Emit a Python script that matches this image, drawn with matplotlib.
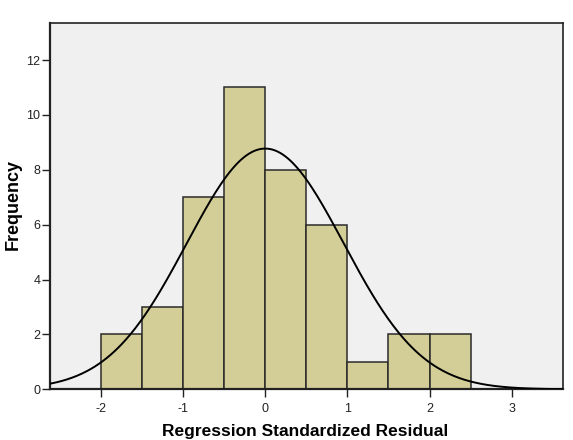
import numpy as np
import matplotlib
matplotlib.use("Agg")
import matplotlib.pyplot as plt

# Data
bin_edges_left = [-2.0, -1.5, -1.0, -0.5, 0.0, 0.5, 1.0, 1.5, 2.0]
bin_width = 0.5
counts = [2, 3, 7, 11, 8, 6, 1, 2, 2]
resid_mean = 0.0
resid_std = 0.955
x_ticks = [-2, -1, 0, 1, 2, 3]
y_ticks = [0, 2, 4, 6, 8, 10, 12]

plt.rcParams['font.family'] = ['Liberation Sans', 'DejaVu Sans']

fig = plt.figure(figsize=(5.73, 4.40), dpi=100)
ax = fig.add_axes([50/573, 1 - 389.3/440, (563-50)/573, (389.3-22.7)/440])
ax.set_facecolor('#F0F0F0')

ax.bar(bin_edges_left, counts, width=bin_width, align='edge',
       color='#D3CE97', edgecolor='#2a2a2a', linewidth=1.1, zorder=2)

n = sum(counts)
xs = np.linspace(-2.62, 3.625, 400)
ys = n * bin_width / (resid_std * np.sqrt(2 * np.pi)) * np.exp(-0.5 * ((xs - resid_mean) / resid_std) ** 2)
ax.plot(xs, ys, color='black', linewidth=1.4, zorder=3)

ax.set_xlim(-2.62, 3.625)
ax.set_ylim(0, 13.36)
ax.set_xticks(x_ticks)
ax.set_xticklabels([str(t) for t in x_ticks])
ax.set_yticks(y_ticks)
ax.set_yticklabels([str(t) for t in y_ticks])
ax.tick_params(axis='both', direction='out', length=6, width=1.0, labelsize=9,
               color='#222222', labelcolor='#222222')
ax.tick_params(axis='y', pad=1)
ax.tick_params(axis='x', pad=4)
for side in ['left', 'right', 'top', 'bottom']:
    ax.spines[side].set_color('#222222')
    ax.spines[side].set_linewidth(1.2)
ax.spines['left'].set_linewidth(1.6)
ax.spines['bottom'].set_linewidth(1.6)

fig.text(13/573, 1 - 205/440, 'Frequency', fontsize=13, fontweight='bold',
         rotation=90, ha='center', va='center')
fig.text(305/573, 1 - 424/440, 'Regression Standardized Residual', fontsize=12.5,
         fontweight='bold', ha='center', va='top')

fig.savefig('out.png', dpi=100)
